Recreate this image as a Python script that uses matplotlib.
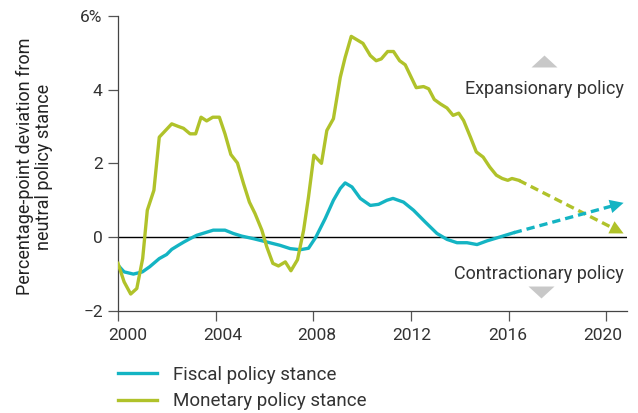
import matplotlib.pyplot as plt
import matplotlib.transforms as mtransforms
from matplotlib.lines import Line2D

plt.rcParams['font.family'] = ['Roboto', 'DejaVu Sans']

# monetary policy stance (percentage points)
mon_years = [2000.0, 2000.25, 2000.52, 2000.77, 2001.01, 2001.2, 2001.47, 2001.69,
             2002.2, 2002.47, 2002.68, 2002.95, 2003.18, 2003.4, 2003.63, 2003.88,
             2004.15, 2004.38, 2004.62, 2004.89, 2005.14, 2005.38, 2005.61, 2005.89,
             2006.09, 2006.34, 2006.57, 2006.85, 2007.08, 2007.35, 2007.6, 2007.8,
             2008.02, 2008.33, 2008.55, 2008.82, 2009.1, 2009.3, 2009.55, 2010.03,
             2010.33, 2010.57, 2010.78, 2011.04, 2011.28, 2011.53, 2011.76, 2011.97,
             2012.21, 2012.51, 2012.72, 2012.95, 2013.2, 2013.47, 2013.72, 2013.95,
             2014.15, 2014.43, 2014.67, 2014.95, 2015.22, 2015.49, 2015.73, 2015.96,
             2016.13, 2016.41]
mon_vals = [-0.71, -1.21, -1.54, -1.39, -0.58, 0.73, 1.27, 2.71,
            3.07, 3.0, 2.95, 2.8, 2.8, 3.25, 3.15, 3.25,
            3.25, 2.8, 2.24, 2.01, 1.45, 0.95, 0.64, 0.19,
            -0.26, -0.71, -0.78, -0.67, -0.91, -0.61, 0.19, 1.09,
            2.22, 2.0, 2.89, 3.21, 4.33, 4.87, 5.44, 5.25,
            4.92, 4.78, 4.83, 5.03, 5.03, 4.78, 4.67, 4.38,
            4.05, 4.08, 4.02, 3.73, 3.61, 3.5, 3.3, 3.36,
            3.16, 2.71, 2.31, 2.17, 1.9, 1.68, 1.59, 1.54,
            1.59, 1.54]

# fiscal policy stance (percentage points)
fis_years = [2000.0, 2000.25, 2000.63, 2001.0, 2001.3, 2001.69, 2001.99, 2002.2,
             2002.47, 2002.7, 2002.95, 2003.22, 2003.56, 2003.9, 2004.38, 2004.72,
             2005.06, 2005.54, 2006.09, 2006.63, 2007.05, 2007.46, 2007.8, 2008.1,
             2008.48, 2008.82, 2009.1, 2009.3, 2009.58, 2009.92, 2010.33, 2010.67,
             2011.01, 2011.26, 2011.69, 2012.1, 2012.58, 2013.06, 2013.47, 2013.88,
             2014.29, 2014.7, 2015.11, 2015.66, 2016.2]
fis_vals = [-0.76, -0.94, -1.0, -0.94, -0.8, -0.58, -0.47, -0.33,
            -0.22, -0.13, -0.04, 0.05, 0.12, 0.19, 0.19, 0.1,
            0.03, -0.04, -0.13, -0.22, -0.31, -0.34, -0.3, 0.0,
            0.5, 1.0, 1.32, 1.47, 1.36, 1.05, 0.86, 0.89,
            1.0, 1.05, 0.95, 0.73, 0.41, 0.1, -0.06, -0.15,
            -0.15, -0.2, -0.1, 0.01, 0.12]

# projections (start, end)
mon_proj_years = [2016.41, 2020.7]
mon_proj_vals = [1.54, 0.1]
fis_proj_years = [2016.2, 2020.7]
fis_proj_vals = [0.12, 0.93]

x_ticks = [2000, 2004, 2008, 2012, 2016, 2020]
y_ticks = [-2, 0, 2, 4, 6]
y_labels = ['\u22122', '0', '2', '4', '6%']

cyan = '#14b4c3'
green = '#b0c22a'
grey_txt = '#333333'
tri = '#c8c8c8'

fig = plt.figure(figsize=(6.38, 4.13), dpi=100)
ax = fig.add_axes([118 / 638, 1 - 311 / 413, (627 - 118) / 638, (311 - 15.7) / 413])

ax.axhline(0, color='black', lw=1, zorder=1)
ax.plot(fis_years, fis_vals, color=cyan, lw=2.4, zorder=3)
ax.plot(mon_years, mon_vals, color=green, lw=2.4, zorder=3)

for xs, ys, c in [(mon_proj_years, mon_proj_vals, green), (fis_proj_years, fis_proj_vals, cyan)]:
    ax.plot([xs[0], xs[1] - (xs[1] - xs[0]) * 0.06], [ys[0], ys[1] - (ys[1] - ys[0]) * 0.06],
            color=c, lw=2.4, ls=(0, (2.5, 1.5)), zorder=3)
    ax.annotate('', xy=(xs[1], ys[1]),
                xytext=(xs[1] - (xs[1] - xs[0]) * 0.1, ys[1] - (ys[1] - ys[0]) * 0.1),
                arrowprops=dict(arrowstyle='-|>,head_length=0.7,head_width=0.35',
                                mutation_scale=14, color=c, lw=0, shrinkA=0, shrinkB=0),
                zorder=4)

ax.set_xlim(2000, 2020.84)
ax.set_ylim(-2, 6)
ax.set_xticks(x_ticks)
ax.set_yticks(y_ticks)
ax.set_yticklabels(y_labels)
for s in ['top', 'right']:
    ax.spines[s].set_visible(False)
for s in ['left', 'bottom']:
    ax.spines[s].set_color('#444444')
    ax.spines[s].set_linewidth(0.9)
ax.tick_params(axis='both', direction='out', length=7.5, width=0.9, color='#555555',
               labelsize=12.5, labelcolor=grey_txt)
ax.tick_params(axis='y', pad=3.5)
ax.tick_params(axis='x', pad=5)

# the year labels sit a little off their ticks in the original
for lab, dx in zip(ax.get_xticklabels(), [10, 7, 3.5, 1, -1, -3.5]):
    lab.set_transform(lab.get_transform() + mtransforms.ScaledTranslation(dx / 100, 0, fig.dpi_scale_trans))

fig.text(34.5 / 638, 1 - 166.5 / 413, 'Percentage-point deviation from\nneutral policy stance',
         rotation=90, ha='center', va='center', fontsize=13, color='#222222', linespacing=1.1)

# annotations
ax.text(2020.7, 3.89, 'Expansionary policy', ha='right', va='baseline', fontsize=13, color=grey_txt)
ax.text(2020.7, -1.135, 'Contractionary policy', ha='right', va='baseline', fontsize=13, color=grey_txt)
up = [(-1, -0.46), (1, -0.46), (0, 0.46)]
down = [(-1, 0.46), (1, 0.46), (0, -0.46)]
ax.plot([17.46 + 2000], [4.76], marker=up, markersize=18.7, color=tri, mew=0, ls='none', clip_on=False)
ax.plot([17.3 + 2000], [-1.49], marker=down, markersize=18.7, color=tri, mew=0, ls='none', clip_on=False)

handles = [Line2D([], [], color=cyan, lw=2.4), Line2D([], [], color=green, lw=2.4)]
fig.legend(handles, ['Fiscal policy stance', 'Monetary policy stance'],
           loc='upper left', bbox_to_anchor=(118 / 638, 1 - 366 / 413), frameon=False,
           fontsize=13.5, handlelength=2.1, labelspacing=0.45, handletextpad=0.85,
           borderpad=0, borderaxespad=0, labelcolor=grey_txt)

fig.savefig('out.png', dpi=100)
